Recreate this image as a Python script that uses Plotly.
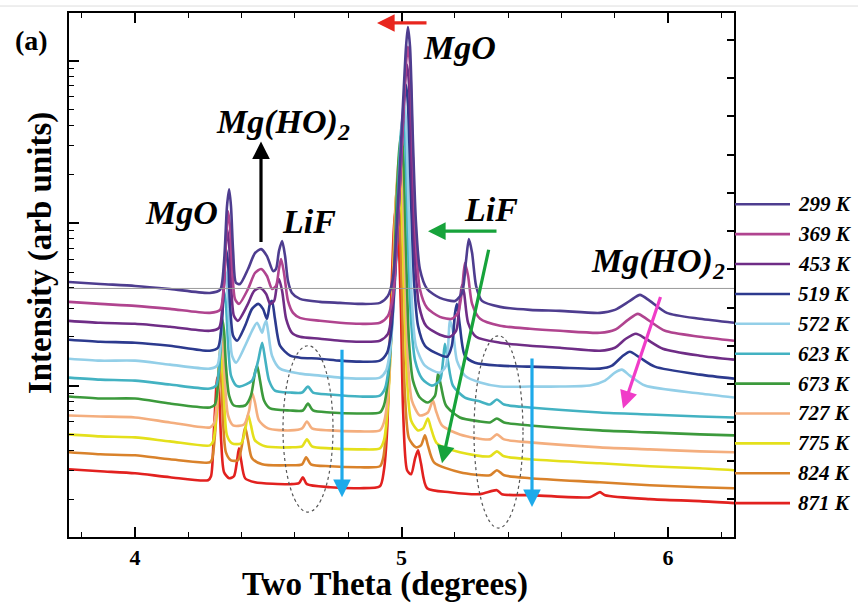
import plotly.graph_objects as go

# ---- temperatures and trace colours -------------------------------------
temps = [299, 369, 453, 519, 572, 623, 673, 727, 775, 824, 871]
colors = ["#4e3d8f", "#b0448f", "#6f2d86", "#2c3a8e", "#93cfe8", "#43b2c2",
          "#3c9a3c", "#f4ae7e", "#e4e01c", "#d9822b", "#e2211f"]

# ---- diffraction scans: two theta (deg) and intensity (arb. units, stacked) --
tt_299 = [3.752, 3.869, 4.000, 4.131, 4.281, 4.319, 4.334, 4.345, 4.353, 4.360, 4.368, 4.379, 4.394, 4.424, 4.450,
          4.473, 4.495, 4.518, 4.529, 4.540, 4.552, 4.563, 4.574, 4.589, 4.619, 4.694, 4.769, 4.844, 4.919, 4.949,
          4.968, 4.987, 5.006, 5.017, 5.024, 5.032, 5.043, 5.054, 5.069, 5.096, 5.144, 5.201, 5.227, 5.242, 5.253,
          5.265, 5.280, 5.302, 5.370, 5.482, 5.595, 5.745, 5.801, 5.857, 5.895, 5.932, 5.996, 6.120, 6.248]
I_299 = [256, 254, 252, 249, 245, 248, 277, 332, 349, 332, 287, 255, 254, 269, 285,
         289, 282, 267, 269, 287, 297, 282, 257, 245, 239, 236, 235, 234, 235, 242,
         260, 337, 437, 492, 512, 492, 397, 317, 269, 249, 240, 237, 245, 277, 299,
         285, 252, 237, 231, 228, 227, 225, 228, 237, 243, 237, 225, 219, 215]

tt_369 = [3.752, 3.869, 4.000, 4.131, 4.281, 4.319, 4.334, 4.341, 4.349, 4.356, 4.364, 4.375, 4.390, 4.424, 4.450,
          4.473, 4.495, 4.514, 4.529, 4.540, 4.548, 4.559, 4.574, 4.593, 4.619, 4.694, 4.769, 4.844, 4.919, 4.949,
          4.968, 4.987, 5.006, 5.017, 5.024, 5.032, 5.043, 5.054, 5.069, 5.096, 5.144, 5.189, 5.212, 5.227, 5.238,
          5.250, 5.265, 5.295, 5.370, 5.482, 5.595, 5.745, 5.801, 5.850, 5.887, 5.925, 5.989, 6.120, 6.248]
I_369 = [236, 234, 232, 229, 225, 228, 255, 297, 327, 312, 272, 239, 234, 249, 265,
         269, 262, 249, 252, 269, 279, 265, 237, 225, 220, 217, 215, 214, 215, 222,
         242, 317, 417, 475, 492, 475, 377, 297, 249, 230, 221, 219, 225, 247, 275,
         262, 234, 219, 212, 209, 207, 205, 208, 218, 224, 218, 207, 201, 197]

tt_453 = [3.752, 3.869, 4.000, 4.131, 4.281, 4.315, 4.330, 4.338, 4.345, 4.353, 4.360, 4.371, 4.386, 4.420, 4.447,
          4.469, 4.492, 4.507, 4.522, 4.533, 4.540, 4.552, 4.567, 4.589, 4.619, 4.694, 4.769, 4.844, 4.919, 4.949,
          4.964, 4.983, 5.002, 5.013, 5.021, 5.028, 5.039, 5.051, 5.066, 5.092, 5.144, 5.182, 5.205, 5.219, 5.227,
          5.235, 5.250, 5.280, 5.370, 5.482, 5.595, 5.745, 5.801, 5.842, 5.880, 5.917, 5.981, 6.120, 6.248]
I_453 = [217, 215, 214, 211, 207, 210, 237, 277, 309, 294, 254, 222, 217, 232, 247,
         250, 244, 234, 237, 254, 259, 247, 219, 205, 201, 199, 197, 196, 197, 204,
         225, 297, 397, 455, 474, 455, 357, 277, 232, 212, 203, 201, 207, 237, 253,
         245, 215, 201, 195, 192, 190, 187, 190, 199, 204, 199, 189, 182, 178]

tt_519 = [3.752, 3.869, 4.000, 4.131, 4.281, 4.311, 4.326, 4.334, 4.341, 4.349, 4.356, 4.368, 4.383, 4.413, 4.439,
          4.462, 4.480, 4.495, 4.507, 4.514, 4.525, 4.544, 4.582, 4.619, 4.694, 4.769, 4.844, 4.919, 4.946, 4.961,
          4.979, 4.998, 5.009, 5.017, 5.024, 5.036, 5.047, 5.062, 5.088, 5.126, 5.171, 5.189, 5.201, 5.208, 5.219,
          5.238, 5.276, 5.370, 5.482, 5.595, 5.745, 5.790, 5.827, 5.857, 5.895, 5.951, 6.120, 6.248]
I_519 = [198, 196, 195, 192, 187, 190, 217, 257, 289, 275, 235, 202, 197, 212, 229,
         234, 229, 219, 235, 237, 219, 192, 182, 180, 179, 177, 176, 177, 185, 205,
         277, 377, 435, 454, 435, 337, 257, 212, 192, 185, 181, 192, 225, 234, 212,
         182, 175, 172, 171, 170, 169, 172, 181, 186, 180, 171, 163, 159]

tt_572 = [3.752, 3.869, 4.000, 4.131, 4.281, 4.308, 4.323, 4.330, 4.338, 4.345, 4.353, 4.364, 4.379, 4.413, 4.439,
          4.458, 4.477, 4.484, 4.492, 4.499, 4.514, 4.544, 4.619, 4.694, 4.769, 4.844, 4.919, 4.942, 4.957, 4.976,
          4.994, 5.002, 5.009, 5.017, 5.028, 5.039, 5.054, 5.088, 5.144, 5.167, 5.182, 5.193, 5.208, 5.238, 5.295,
          5.370, 5.482, 5.595, 5.707, 5.764, 5.801, 5.827, 5.857, 5.914, 6.120, 6.248]
I_572 = [179, 177, 177, 173, 169, 172, 202, 242, 269, 255, 215, 182, 175, 192, 207,
         215, 205, 212, 217, 207, 182, 169, 164, 162, 160, 159, 160, 167, 187, 257,
         367, 417, 437, 417, 317, 237, 192, 172, 165, 172, 217, 207, 177, 162, 155,
         151, 151, 151, 152, 157, 165, 168, 162, 152, 144, 140]

tt_623 = [3.752, 3.869, 4.000, 4.131, 4.281, 4.304, 4.319, 4.326, 4.334, 4.341, 4.349, 4.360, 4.379, 4.394, 4.439,
          4.462, 4.477, 4.488, 4.503, 4.525, 4.582, 4.627, 4.649, 4.668, 4.732, 4.844, 4.919, 4.938, 4.953, 4.972,
          4.987, 4.998, 5.006, 5.013, 5.024, 5.036, 5.051, 5.077, 5.114, 5.144, 5.156, 5.163, 5.174, 5.193, 5.238,
          5.295, 5.332, 5.358, 5.385, 5.482, 5.745, 5.932, 6.120, 6.248]
I_623 = [160, 158, 157, 153, 149, 152, 182, 222, 247, 234, 194, 162, 152, 151, 157,
         177, 195, 179, 157, 147, 145, 145, 151, 145, 143, 141, 142, 149, 172, 247,
         347, 407, 422, 402, 297, 217, 177, 159, 152, 157, 177, 194, 177, 152, 140,
         136, 133, 138, 133, 130, 125, 123, 121, 120]

tt_673 = [3.752, 3.869, 4.000, 4.131, 4.281, 4.300, 4.315, 4.323, 4.326, 4.334, 4.341, 4.353, 4.371, 4.413, 4.435,
          4.450, 4.458, 4.469, 4.484, 4.507, 4.582, 4.630, 4.649, 4.668, 4.732, 4.844, 4.919, 4.934, 4.949, 4.968,
          4.983, 4.991, 4.998, 5.006, 5.017, 5.028, 5.043, 5.069, 5.099, 5.126, 5.137, 5.148, 5.167, 5.219, 5.295,
          5.332, 5.358, 5.385, 5.482, 5.745, 5.932, 6.120, 6.248]
I_673 = [141, 139, 139, 134, 130, 133, 167, 202, 220, 207, 172, 142, 132, 132, 142,
         165, 172, 157, 137, 129, 127, 127, 134, 127, 125, 124, 125, 132, 157, 237,
         347, 387, 404, 387, 287, 197, 157, 140, 135, 142, 164, 152, 132, 120, 116,
         115, 119, 115, 112, 107, 105, 103, 102]

tt_727 = [3.752, 3.869, 4.000, 4.131, 4.281, 4.296, 4.311, 4.319, 4.323, 4.330, 4.338, 4.349, 4.368, 4.409, 4.428,
          4.439, 4.450, 4.465, 4.499, 4.582, 4.627, 4.645, 4.664, 4.732, 4.844, 4.919, 4.934, 4.949, 4.964, 4.979,
          4.987, 4.994, 5.002, 5.013, 5.024, 5.039, 5.069, 5.099, 5.118, 5.129, 5.152, 5.219, 5.332, 5.358, 5.385,
          5.482, 5.745, 5.932, 6.120, 6.248]
I_727 = [122, 121, 120, 115, 110, 114, 147, 187, 207, 192, 152, 122, 112, 113, 127,
         145, 135, 117, 109, 107, 109, 116, 109, 107, 106, 107, 115, 142, 217, 337,
         372, 387, 370, 267, 177, 137, 122, 125, 137, 127, 112, 103, 98, 103, 98,
         95, 90, 88, 86, 85]

tt_775 = [3.752, 3.869, 4.000, 4.131, 4.281, 4.293, 4.308, 4.315, 4.319, 4.326, 4.334, 4.345, 4.364, 4.398, 4.413,
          4.424, 4.435, 4.450, 4.488, 4.582, 4.627, 4.645, 4.664, 4.732, 4.844, 4.919, 4.934, 4.946, 4.961, 4.976,
          4.983, 4.991, 4.998, 5.009, 5.021, 5.036, 5.062, 5.081, 5.099, 5.111, 5.133, 5.219, 5.332, 5.358, 5.385,
          5.482, 5.745, 5.932, 6.120, 6.248]
I_775 = [103, 101, 100, 96, 92, 96, 132, 172, 189, 175, 137, 102, 94, 94, 107,
         123, 112, 97, 91, 90, 91, 98, 91, 89, 88, 89, 97, 122, 197, 317,
         354, 367, 352, 252, 157, 117, 107, 109, 119, 109, 94, 85, 81, 86, 81,
         78, 74, 71, 69, 67]

tt_824 = [3.752, 3.869, 4.000, 4.131, 4.281, 4.289, 4.304, 4.311, 4.315, 4.323, 4.330, 4.341, 4.360, 4.386, 4.401,
          4.413, 4.424, 4.439, 4.477, 4.582, 4.627, 4.642, 4.660, 4.732, 4.844, 4.919, 4.931, 4.942, 4.957, 4.972,
          4.979, 4.983, 4.991, 5.002, 5.013, 5.028, 5.054, 5.073, 5.088, 5.099, 5.122, 5.219, 5.332, 5.358, 5.385,
          5.482, 5.745, 5.932, 6.120, 6.248]
I_824 = [85, 83, 82, 78, 75, 78, 117, 157, 174, 159, 117, 85, 77, 77, 92,
         110, 97, 79, 73, 72, 73, 80, 73, 71, 70, 71, 79, 105, 182, 302,
         339, 349, 335, 237, 142, 99, 90, 92, 102, 92, 75, 65, 62, 67, 62,
         59, 55, 52, 50, 49]

tt_871 = [3.752, 3.869, 4.000, 4.131, 4.274, 4.285, 4.296, 4.304, 4.308, 4.315, 4.323, 4.334, 4.353, 4.371, 4.383,
          4.390, 4.398, 4.413, 4.450, 4.582, 4.615, 4.630, 4.645, 4.732, 4.844, 4.919, 4.934, 4.946, 4.961, 4.972,
          4.979, 4.987, 4.998, 5.006, 5.021, 5.036, 5.051, 5.062, 5.073, 5.096, 5.182, 5.295, 5.358, 5.377, 5.482,
          5.707, 5.730, 5.745, 5.764, 5.932, 6.120, 6.248]
I_871 = [68, 66, 64, 60, 57, 61, 107, 147, 160, 145, 97, 65, 59, 61, 77,
         89, 77, 59, 55, 53, 54, 60, 53, 50, 49, 51, 67, 107, 237, 312,
         331, 312, 227, 127, 67, 63, 79, 87, 74, 49, 45, 43, 47, 43, 42,
         40, 43, 45, 42, 38, 36, 34]

scans = [(tt_299, I_299), (tt_369, I_369), (tt_453, I_453), (tt_519, I_519),
         (tt_572, I_572), (tt_623, I_623), (tt_673, I_673), (tt_727, I_727),
         (tt_775, I_775), (tt_824, I_824), (tt_871, I_871)]

x_ticks = [4, 5, 6]

SERIF = "Liberation Serif"

fig = go.Figure()

# hottest scan first so the room-temperature pattern sits on top
for i in reversed(range(len(temps))):
    tt, inten = scans[i]
    assert len(tt) == len(inten)
    fig.add_trace(go.Scatter(
        x=tt, y=inten, mode="lines", name=f"{temps[i]} K",
        line=dict(color=colors[i], width=2.6, shape="spline", smoothing=0.7),
        showlegend=False, hoverinfo="skip"))

# empty traces that carry the decorative left (log) and right (linear) tick axes
fig.add_trace(go.Scatter(x=[], y=[], yaxis="y2", showlegend=False, hoverinfo="skip"))
fig.add_trace(go.Scatter(x=[], y=[], yaxis="y3", showlegend=False, hoverinfo="skip"))


# layout helpers: pixel offsets inside the 858x604 canvas -> paper fractions
def px_x(p):
    return (p - 69) / 665.0


def px_y(p):
    return (537 - p) / 526.0


# ---- legend on the right: line sample + bold italic label ----------------
for i, t in enumerate(temps):
    yc = px_y(203 + 30 * i)
    fig.add_shape(type="line", xref="paper", yref="paper",
                  x0=px_x(735), x1=px_x(790), y0=yc, y1=yc,
                  line=dict(color=colors[i], width=2.6))
    fig.add_annotation(xref="paper", yref="paper", x=px_x(796), y=yc,
                       text=f"{t} K", showarrow=False, xanchor="left", yanchor="middle",
                       font=dict(family=SERIF, size=21, color="black", weight="bold", style="italic"))

# ---- peak labels ------------------------------------------------------------
labels = [
    ("MgO", 181, 211),
    ("Mg(HO)<sub>2</sub>", 283, 122),
    ("LiF", 309, 220),
    ("MgO", 460, 46),
    ("LiF", 491, 208),
    ("Mg(HO)<sub>2</sub>", 658, 262),
]
for txt, lx, ly in labels:
    fig.add_annotation(xref="paper", yref="paper", x=px_x(lx), y=px_y(ly), text=txt,
                       showarrow=False, xanchor="center", yanchor="middle",
                       font=dict(family=SERIF, size=34, color="black", weight="bold", style="italic"))

fig.add_annotation(xref="paper", yref="paper", x=px_x(31), y=px_y(39), text="(a)",
                   showarrow=False, xanchor="center", yanchor="middle",
                   font=dict(family=SERIF, size=28, color="black", weight="bold"))

# ---- arrows: (head x, head y, tail dx, tail dy, colour) -----------------------
arrows = [
    (377, 21, 51, 0, "#e8261e"),
    (261, 140, 0, 102, "black"),
    (428, 230, 70, 0, "#17a33b"),
    (442, 463, 47, -215, "#17a33b"),
    (342, 497, 0, -149, "#1eaaea"),
    (532, 507, 0, -150, "#1eaaea"),
    (623, 408, 38, -113, "#f03cc8"),
]
for hx, hy, dx, dy, c in arrows:
    fig.add_annotation(xref="paper", yref="paper", x=px_x(hx), y=px_y(hy),
                       ax=dx, ay=dy, axref="pixel", ayref="pixel", text="",
                       showarrow=True, arrowhead=2, arrowsize=1.1, arrowwidth=3.2, arrowcolor=c)

# dotted ellipses around the weak reflections
for x0, x1, y0, y1 in [(283, 333, 512, 345), (474, 523, 528, 335)]:
    fig.add_shape(type="circle", xref="paper", yref="paper",
                  x0=px_x(x0), x1=px_x(x1), y0=px_y(y0), y1=px_y(y1),
                  line=dict(color="#555555", width=1.2, dash="dot"))

# thin grey reference line
fig.add_shape(type="line", xref="paper", yref="paper", x0=0, x1=1,
              y0=px_y(287.5), y1=px_y(287.5), line=dict(color="#9a9a9a", width=1))

# faint frame line along the top of the figure
fig.add_shape(type="line", xref="paper", yref="paper", x0=px_x(0), x1=px_x(858),
              y0=px_y(4), y1=px_y(4), line=dict(color="#dddddd", width=1))

# axis titles
fig.add_annotation(xref="paper", yref="paper", x=px_x(385), y=px_y(585),
                   text="Two Theta (degrees)", showarrow=False,
                   xanchor="center", yanchor="middle", borderpad=0,
                   font=dict(family=SERIF, size=33, color="black", weight="bold"))
fig.add_annotation(xref="paper", yref="paper", x=px_x(40), y=px_y(252),
                   text="Intensity (arb units)", showarrow=False, textangle=-90,
                   xanchor="center", yanchor="middle",
                   font=dict(family=SERIF, size=33, color="black", weight="bold"))

minor_log = [k * 10 ** e for e in range(0, 4) for k in range(2, 10)]

fig.update_layout(
    width=858, height=604,
    margin=dict(l=69, r=124, t=11, b=67),
    paper_bgcolor="white", plot_bgcolor="white",
    showlegend=False,
    xaxis=dict(range=[3.752, 6.248], showgrid=False, zeroline=False,
               showline=True, linecolor="black", linewidth=2, mirror="ticks",
               ticks="inside", ticklen=10, tickwidth=1.6, tickcolor="black",
               tickvals=x_ticks, ticktext=[str(v) for v in x_ticks],
               tickfont=dict(family=SERIF, size=22, color="black", weight="bold"),
               minor=dict(dtick=0.2, tick0=4, ticks="inside", ticklen=5,
                          tickwidth=1.4, tickcolor="black", showgrid=False)),
    yaxis=dict(range=[0, 526], showgrid=False, zeroline=False, showline=True,
               linecolor="black", linewidth=2, mirror=True, ticks="",
               showticklabels=False),
    yaxis2=dict(overlaying="y", side="left", type="log", range=[0.0675, 3.2945],
                showgrid=False, zeroline=False, showline=False, showticklabels=False,
                ticks="inside", ticklen=10, tickwidth=1.6, tickcolor="black",
                tickvals=[10, 100, 1000],
                minor=dict(tickvals=minor_log, ticks="inside", ticklen=5,
                           tickwidth=1.4, tickcolor="black", showgrid=False)),
    yaxis3=dict(overlaying="y", side="right", range=[0, 13.7], dtick=1, tick0=0,
                showgrid=False, zeroline=False, showline=False, showticklabels=False,
                ticks="inside", ticklen=7, tickwidth=1.6, tickcolor="black"),
)

fig.write_html("out.html")
